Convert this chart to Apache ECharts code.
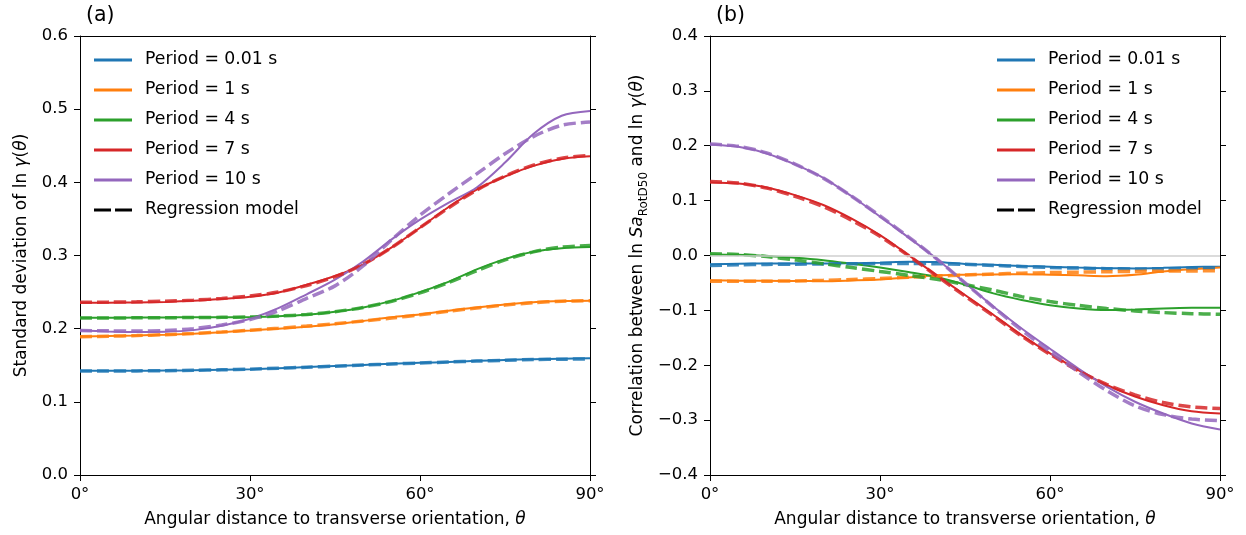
<!DOCTYPE html>
<html>
<head>
<meta charset="utf-8">
<script src="https://cdn.jsdelivr.net/npm/echarts@6/dist/echarts.min.js"></script>
<style>
  html, body { margin: 0; padding: 0; background: #fff; }
  #chart { width: 1246px; height: 535px; }
</style>
</head>
<body>
<div id="chart"></div>
<script>
// Angular distance to transverse orientation (degrees)
const theta = [0, 5, 10, 15, 20, 25, 30, 35, 40, 45, 50, 55, 60, 65, 70, 75, 80, 85, 90];

const periods = ['Period = 0.01 s', 'Period = 1 s', 'Period = 4 s', 'Period = 7 s', 'Period = 10 s'];
const modelName = 'Regression model';
const colors = ['#1f77b4', '#ff7f0e', '#2ca02c', '#d62728', '#9467bd'];

// (a) standard deviation of ln gamma(theta): observed
const sdObs001 = [0.1425, 0.1425, 0.1425, 0.1428, 0.1432, 0.1438, 0.1445, 0.1458, 0.1475, 0.1490, 0.1505, 0.1520, 0.1533, 0.1545, 0.1560, 0.1572, 0.1582, 0.1590, 0.1594];
const sdObs1   = [0.1894, 0.1900, 0.1908, 0.1918, 0.1932, 0.1952, 0.1975, 0.2000, 0.2027, 0.2060, 0.2105, 0.2155, 0.2195, 0.2245, 0.2290, 0.2330, 0.2362, 0.2377, 0.2382];
const sdObs4   = [0.2150, 0.2150, 0.2152, 0.2154, 0.2155, 0.2156, 0.2160, 0.2170, 0.2190, 0.2230, 0.2290, 0.2380, 0.2500, 0.2640, 0.2810, 0.2950, 0.3050, 0.3100, 0.3115];
const sdObs7   = [0.2355, 0.2355, 0.2358, 0.2365, 0.2380, 0.2405, 0.2435, 0.2495, 0.2600, 0.2720, 0.2880, 0.3110, 0.3380, 0.3660, 0.3900, 0.4080, 0.4225, 0.4320, 0.4355];
const sdObs10  = [0.1976, 0.1962, 0.1955, 0.1958, 0.1980, 0.2040, 0.2135, 0.2280, 0.2470, 0.2670, 0.2920, 0.3220, 0.3490, 0.3720, 0.3930, 0.4270, 0.4660, 0.4910, 0.4975];

// (a) regression model
const sdMod001 = [0.1420, 0.1421, 0.1423, 0.1426, 0.1431, 0.1438, 0.1447, 0.1459, 0.1473, 0.1488, 0.1503, 0.1517, 0.1531, 0.1544, 0.1557, 0.1568, 0.1577, 0.1583, 0.1585];
const sdMod1   = [0.1890, 0.1897, 0.1906, 0.1918, 0.1934, 0.1954, 0.1978, 0.2005, 0.2035, 0.2068, 0.2105, 0.2145, 0.2190, 0.2238, 0.2283, 0.2323, 0.2355, 0.2375, 0.2382];
const sdMod4   = [0.2145, 0.2146, 0.2148, 0.2150, 0.2152, 0.2155, 0.2160, 0.2172, 0.2194, 0.2232, 0.2290, 0.2375, 0.2490, 0.2630, 0.2790, 0.2940, 0.3050, 0.3115, 0.3135];
const sdMod7   = [0.2362, 0.2363, 0.2367, 0.2375, 0.2390, 0.2413, 0.2448, 0.2500, 0.2590, 0.2710, 0.2880, 0.3110, 0.3380, 0.3650, 0.3895, 0.4085, 0.4235, 0.4330, 0.4370];
const sdMod10  = [0.1975, 0.1970, 0.1968, 0.1975, 0.2000, 0.2050, 0.2125, 0.2245, 0.2415, 0.2585, 0.2860, 0.3215, 0.3550, 0.3840, 0.4115, 0.4390, 0.4625, 0.4780, 0.4825];

// (b) correlation between ln Sa_RotD50 and ln gamma(theta): observed
const corObs001 = [-0.0160, -0.0150, -0.0146, -0.0146, -0.0146, -0.0140, -0.0130, -0.0115, -0.0120, -0.0155, -0.0170, -0.0190, -0.0205, -0.0220, -0.0232, -0.0235, -0.0225, -0.0210, -0.0205];
const corObs1   = [-0.0450, -0.0458, -0.0462, -0.0465, -0.0468, -0.0455, -0.0437, -0.0400, -0.0362, -0.0350, -0.0345, -0.0340, -0.0350, -0.0362, -0.0376, -0.0350, -0.0290, -0.0250, -0.0220];
const corObs4   = [0.0020, 0.0012, -0.0010, -0.0040, -0.0085, -0.0150, -0.0220, -0.0300, -0.0390, -0.0530, -0.0690, -0.0810, -0.0905, -0.0965, -0.0995, -0.0985, -0.0965, -0.0952, -0.0950];
const corObs7   = [0.1330, 0.1310, 0.1240, 0.1100, 0.0920, 0.0670, 0.0370, 0.0010, -0.0360, -0.0720, -0.1080, -0.1450, -0.1785, -0.2090, -0.2360, -0.2570, -0.2730, -0.2840, -0.2880];
const corObs10  = [0.2025, 0.1980, 0.1860, 0.1660, 0.1415, 0.1080, 0.0710, 0.0330, -0.0060, -0.0500, -0.0930, -0.1330, -0.1700, -0.2060, -0.2390, -0.2665, -0.2880, -0.3060, -0.3170];

// (b) regression model
const corMod001 = [-0.0180, -0.0170, -0.0162, -0.0158, -0.0155, -0.0150, -0.0147, -0.0146, -0.0150, -0.0160, -0.0180, -0.0200, -0.0218, -0.0230, -0.0240, -0.0245, -0.0242, -0.0236, -0.0232];
const corMod1   = [-0.0470, -0.0470, -0.0468, -0.0463, -0.0453, -0.0438, -0.0420, -0.0398, -0.0375, -0.0355, -0.0338, -0.0323, -0.0312, -0.0303, -0.0296, -0.0290, -0.0285, -0.0281, -0.0279];
const corMod4   = [0.0030, 0.0020, -0.0020, -0.0080, -0.0150, -0.0220, -0.0290, -0.0360, -0.0435, -0.0530, -0.0630, -0.0750, -0.0840, -0.0910, -0.0965, -0.1010, -0.1040, -0.1060, -0.1070];
const corMod7   = [0.1350, 0.1320, 0.1230, 0.1080, 0.0890, 0.0640, 0.0350, 0.0000, -0.0370, -0.0740, -0.1100, -0.1470, -0.1800, -0.2100, -0.2350, -0.2540, -0.2680, -0.2760, -0.2790];
const corMod10  = [0.2030, 0.1990, 0.1870, 0.1665, 0.1410, 0.1080, 0.0720, 0.0340, -0.0060, -0.0500, -0.0940, -0.1360, -0.1750, -0.2120, -0.2460, -0.2740, -0.2900, -0.2980, -0.3010];

const xTicks = [0, 30, 60, 90];

const sdObs = [sdObs001, sdObs1, sdObs4, sdObs7, sdObs10];
const sdMod = [sdMod001, sdMod1, sdMod4, sdMod7, sdMod10];
const corObs = [corObs001, corObs1, corObs4, corObs7, corObs10];
const corMod = [corMod001, corMod1, corMod4, corMod7, corMod10];

const FONT = 'DejaVu Sans';
const TICK_FS = 16.5;
const AXIS_FS = 17;
const LEGEND_FS = 17.3;
const pairs = vals => theta.map((t, i) => [t, vals[i]]);
const minus = s => String(s).replace('-', '\u2212');

function lineSeries(name, vals, color, dashed, xi, yi) {
  return {
    type: 'line',
    name: name,
    xAxisIndex: xi,
    yAxisIndex: yi,
    data: pairs(vals),
    smooth: 0.3,
    showSymbol: false,
    symbol: 'none',
    z: dashed ? 4 : 3,
    lineStyle: dashed
      ? { color: color, width: 3.5, type: [12, 5], opacity: 0.85, cap: 'butt' }
      : { color: color, width: 2 },
    itemStyle: { color: color },
    emphasis: { disabled: true },
    animation: false
  };
}

const series = [];
// zero reference line on panel (b)
series.push({
  type: 'line', name: 'zero', xAxisIndex: 1, yAxisIndex: 2, data: [], z: 1,
  markLine: {
    silent: true, symbol: 'none', animation: false, label: { show: false },
    lineStyle: { color: '#cfcfcf', width: 1.5, type: 'solid' },
    data: [{ yAxis: 0 }]
  }
});
for (let i = 0; i < periods.length; i++) {
  series.push(lineSeries(periods[i], sdObs[i], colors[i], false, 0, 0));
}
for (let i = 0; i < periods.length; i++) {
  series.push(lineSeries(modelName, sdMod[i], colors[i], true, 0, 0));
}
for (let i = 0; i < periods.length; i++) {
  series.push(lineSeries(periods[i], corObs[i], colors[i], false, 1, 2));
}
for (let i = 0; i < periods.length; i++) {
  series.push(lineSeries(modelName, corMod[i], colors[i], true, 1, 2));
}

const gridTop = 36, gridH = 439, gridW = 510;
const grids = [
  { left: 80, top: gridTop, width: gridW, height: gridH },
  { left: 710, top: gridTop, width: gridW, height: gridH }
];

const axisLine = { show: true, onZero: false, lineStyle: { color: '#000', width: 1 } };
const tick = { show: true, inside: false, length: 6, lineStyle: { color: '#000', width: 1 } };
const labelStyle = { color: '#000', fontFamily: FONT, fontSize: TICK_FS };
const xTitle = 'Angular distance to transverse orientation, {i|θ}';
const richI = { i: { fontStyle: 'italic', fontFamily: FONT, fontSize: AXIS_FS, color: '#000' } };

function bottomX(gi) {
  return {
    type: 'value', gridIndex: gi, position: 'bottom', min: 0, max: 90, interval: 30,
    axisLine: axisLine, axisTick: tick, splitLine: { show: false },
    axisLabel: Object.assign({ margin: 11, formatter: v => xTicks.includes(v) ? v + '°' : '' }, labelStyle),
    name: xTitle, nameLocation: 'middle', nameGap: 36,
    nameTextStyle: { color: '#000', fontFamily: FONT, fontSize: AXIS_FS, rich: richI }
  };
}
function topX(gi) {
  return {
    type: 'value', gridIndex: gi, position: 'top', min: 0, max: 90, interval: 30,
    axisLine: axisLine, axisTick: { show: false }, axisLabel: { show: false }, splitLine: { show: false }
  };
}
function rightY(gi, mn, mx, step) {
  return {
    type: 'value', gridIndex: gi, position: 'right', min: mn, max: mx, interval: step,
    axisLine: axisLine, axisTick: tick, axisLabel: { show: false }, splitLine: { show: false }
  };
}

const yA = {
  type: 'value', gridIndex: 0, position: 'left', min: 0, max: 0.6, interval: 0.1,
  axisLine: axisLine, axisTick: tick, splitLine: { show: false },
  axisLabel: Object.assign({ margin: 12, formatter: v => v.toFixed(1) }, labelStyle),
  name: 'Standard deviation of ln {i|γ}({i|θ})', nameLocation: 'middle', nameGap: 50, nameRotate: 90,
  nameTextStyle: { color: '#000', fontFamily: FONT, fontSize: AXIS_FS, rich: richI }
};
const yB = {
  type: 'value', gridIndex: 1, position: 'left', min: -0.4, max: 0.4, interval: 0.1,
  axisLine: axisLine, axisTick: tick, splitLine: { show: false },
  axisLabel: Object.assign({ margin: 12, formatter: v => minus(v.toFixed(1)) }, labelStyle),
  name: '{t|Correlation between ln }{i|Sa}{sub|RotD50}{t| and ln }{i|γ}{t|(}{i|θ}{t|)}',
  nameLocation: 'middle', nameGap: 60, nameRotate: 90,
  nameTextStyle: {
    color: '#000', fontFamily: FONT, fontSize: AXIS_FS,
    rich: {
      t: { fontFamily: FONT, fontSize: AXIS_FS, color: '#000', lineHeight: 25, verticalAlign: 'middle' },
      i: { fontFamily: FONT, fontSize: AXIS_FS, color: '#000', fontStyle: 'italic', lineHeight: 25, verticalAlign: 'middle' },
      sub: { fontFamily: FONT, fontSize: 12, color: '#000', verticalAlign: 'bottom', lineHeight: 13 }
    }
  }
};

const dashIcon = 'path://M0,0H17V1H0Z M21,0H38V1H21Z';
function legendFor(left) {
  return {
    orient: 'vertical', left: left, top: 45,
    itemWidth: 38, itemHeight: 3, itemGap: 10, symbolKeepAspect: false,
    itemStyle: { borderWidth: 0 },
    textStyle: { color: '#000', fontFamily: FONT, fontSize: LEGEND_FS, lineHeight: 20, padding: [0, 0, 0, 8] },
    selectedMode: false,
    data: periods.map(p => ({ name: p, icon: 'rect' }))
      .concat([{ name: modelName, icon: dashIcon, itemStyle: { color: '#000', borderWidth: 0 } }])
  };
}

const chart = echarts.init(document.getElementById('chart'), null, { renderer: 'canvas' });
chart.setOption({
  backgroundColor: '#fff',
  animation: false,
  textStyle: { fontFamily: FONT },
  title: [
    { text: '(a)', left: 81, top: 0, textStyle: { fontFamily: FONT, fontSize: 20.5, fontWeight: 'normal', color: '#000' } },
    { text: '(b)', left: 711, top: 0, textStyle: { fontFamily: FONT, fontSize: 20.5, fontWeight: 'normal', color: '#000' } }
  ],
  legend: [legendFor(89), legendFor(992)],
  grid: grids,
  xAxis: [bottomX(0), bottomX(1), topX(0), topX(1)],
  yAxis: [yA, rightY(0, 0, 0.6, 0.1), yB, rightY(1, -0.4, 0.4, 0.1)],
  series: series
});
</script>
</body>
</html>
